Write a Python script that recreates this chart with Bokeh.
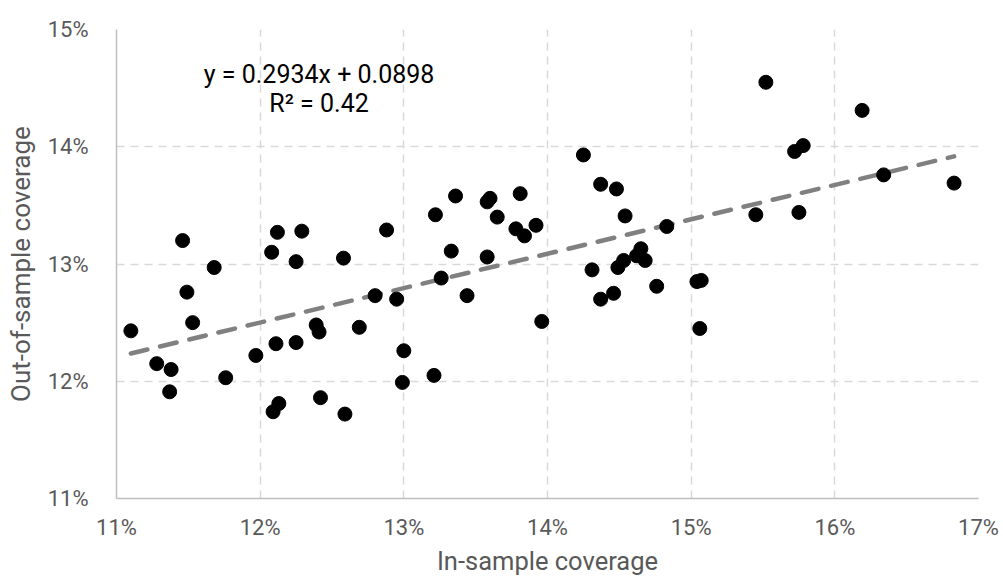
from bokeh.plotting import figure
from bokeh.models import Range1d, FixedTicker, PrintfTickFormatter, ColumnDataSource
from bokeh.embed import file_html
from bokeh.resources import INLINE
from bokeh.core.properties import value

# In-sample coverage (%) and out-of-sample coverage (%)
in_sample = [11.10, 11.28, 11.38, 11.37, 11.46, 11.49, 11.53, 11.68, 11.76, 11.97,
             12.08, 12.12, 12.29, 12.25, 12.11, 12.25, 12.39, 12.41, 12.13, 12.09,
             12.42, 13.22, 12.88, 12.58, 13.33, 13.58, 13.65, 13.78, 13.84, 13.92,
             12.80, 12.95, 13.26, 13.44, 12.69, 13.00, 12.99, 13.21, 12.59, 13.96,
             13.36, 13.60, 13.58, 13.81, 14.25, 14.37, 14.48, 14.54, 14.83, 14.31,
             14.49, 14.53, 14.65, 14.62, 14.68, 14.46, 14.37, 14.76, 15.04, 15.07,
             15.06, 15.52, 16.19, 15.78, 15.72, 16.34, 16.83, 15.45, 15.75]
out_sample = [12.43, 12.15, 12.10, 11.91, 13.20, 12.76, 12.50, 12.97, 12.03, 12.22,
              13.10, 13.27, 13.28, 13.02, 12.32, 12.33, 12.48, 12.42, 11.81, 11.74,
              11.86, 13.42, 13.29, 13.05, 13.11, 13.06, 13.40, 13.30, 13.24, 13.33,
              12.73, 12.70, 12.88, 12.73, 12.46, 12.26, 11.99, 12.05, 11.72, 12.51,
              13.58, 13.56, 13.53, 13.60, 13.93, 13.68, 13.64, 13.41, 13.32, 12.95,
              12.97, 13.03, 13.13, 13.07, 13.03, 12.75, 12.70, 12.81, 12.85, 12.86,
              12.45, 14.55, 14.31, 14.01, 13.96, 13.76, 13.69, 13.42, 13.44]

slope = 0.2934
intercept = 0.0898
r2 = 0.42
x_ticks = [11, 12, 13, 14, 15, 16, 17]
y_ticks = [11, 12, 13, 14, 15]
x_title = "In-sample coverage"
y_title = "Out-of-sample coverage"
eq_lines = ["y = 0.2934x + 0.0898", "R² = 0.42"]

FONT = "Roboto"
GREY = "#595959"

p = figure(width=1003, height=578, output_backend="svg", toolbar_location=None,
           x_range=Range1d(11, 17), y_range=Range1d(11, 15))
p.min_border_left = 116
p.min_border_right = 25
p.min_border_top = 29
p.min_border_bottom = 80
p.outline_line_color = None
p.background_fill_color = "white"
p.border_fill_color = "white"

for ax, ticks, title in ((p.xaxis[0], x_ticks, x_title), (p.yaxis[0], y_ticks, y_title)):
    ax.ticker = FixedTicker(ticks=ticks)
    ax.formatter = PrintfTickFormatter(format="%d%%")
    ax.axis_line_color = "#bfbfbf"
    ax.axis_line_width = 1.5
    ax.major_tick_line_color = None
    ax.minor_tick_line_color = None
    ax.major_label_text_font = FONT
    ax.major_label_text_font_size = "22px"
    ax.major_label_text_color = GREY
    ax.axis_label = title
    ax.axis_label_text_font = FONT
    ax.axis_label_text_font_style = "normal"
    ax.axis_label_text_color = GREY

p.xaxis[0].axis_label_text_font_size = "25.5px"
p.yaxis[0].axis_label_text_font_size = "26px"
p.xaxis[0].major_label_standoff = 10
p.xaxis[0].axis_label_standoff = 3
p.yaxis[0].major_label_standoff = 22
p.yaxis[0].axis_label_standoff = 9

for g in (p.xgrid[0], p.ygrid[0]):
    g.grid_line_color = "#d9d9d9"
    g.grid_line_width = 1.5
    g.grid_line_dash = "8 6"
p.xgrid[0].ticker = FixedTicker(ticks=x_ticks)
p.ygrid[0].ticker = FixedTicker(ticks=y_ticks)

# trend line from stated equation (in percent units)
x0, x1 = min(in_sample), max(in_sample)
tx = [x0, x1]
ty = [(slope * (v / 100) + intercept) * 100 for v in tx]
p.line(tx, ty, line_color="#808080", line_width=4.5, line_dash="17 13", line_cap="round")

src = ColumnDataSource(dict(x=in_sample, y=out_sample))
p.scatter("x", "y", source=src, size=14, fill_color="black", line_color="black")

p.text(x=[12.41, 12.41], y=[14.62, 14.37], text=eq_lines,
       text_font=value(FONT), text_font_size="25px", text_color="black",
       text_align="center", text_baseline="middle")

open("out.html", "w").write(file_html(p, INLINE))
